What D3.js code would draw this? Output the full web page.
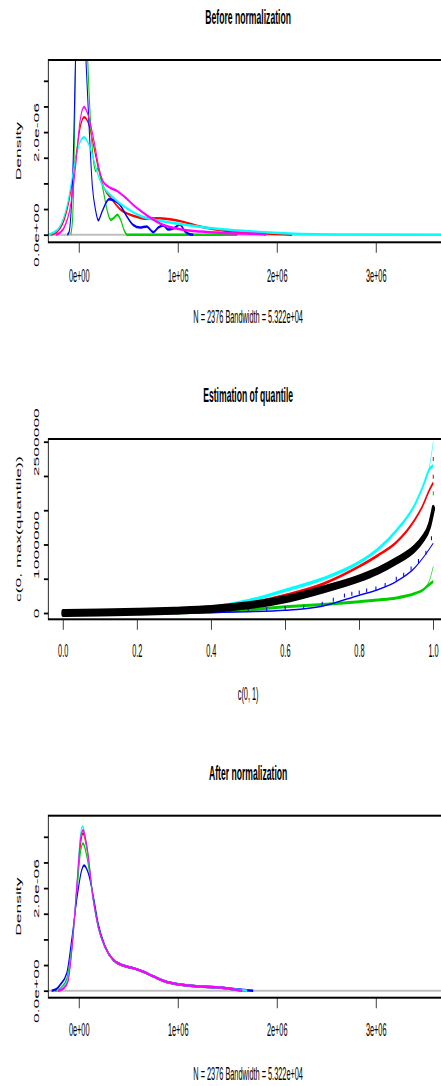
<!DOCTYPE html>
<html>
<head>
<meta charset="utf-8">
<script src="https://cdn.jsdelivr.net/npm/d3@7"></script>
<style>
  html, body { margin: 0; padding: 0; background: #fff; overflow: hidden; }
  svg { display: block; }
  text { font-family: "Liberation Sans", Arial, Helvetica, sans-serif; fill: #000; }
</style>
</head>
<body>
<script>
// ---------- data ----------
// density panels: x in units of 1e6, density in units of 1e-6
const densXTicks = [0, 1, 2, 3];
const densXLabels = ["0e+00", "1e+06", "2e+06", "3e+06"];
const densYTicks = [0, 0.5, 1, 1.5, 2, 2.5, 3];
const densYLabels = ["0.0e+00", "", "", "", "2.0e-06", "", ""];
const subText = "N = 2376   Bandwidth = 5.322e+04";

const beforeRed = [[-0.286,0],[-0.22,0.06],[-0.169,0.2],[-0.101,0.66],[-0.033,1.5],[0.017,2.14],[0.051,2.29],[0.101,2.14],[0.152,1.69],[0.202,1.24],[0.253,0.91],[0.32,0.72],[0.414,0.5],[0.548,0.37],[0.684,0.31],[0.785,0.32],[0.919,0.30],[1.054,0.25],[1.222,0.16],[1.424,0.09],[1.694,0.04],[1.997,0.014],[2.15,0]];
const beforeGreen = [[-0.084,0],[-0.065,0.3],[-0.056,0.8],[-0.033,3.6],[0.01,8],[0.084,3.6],[0.118,2.14],[0.152,1.36],[0.169,1.24],[0.195,1.3],[0.219,1.1],[0.253,0.78],[0.286,0.46],[0.32,0.29],[0.354,0.33],[0.387,0.39],[0.421,0.29],[0.455,0.09],[0.488,0],[1.6,0]];
const beforeBlue = [[-0.118,0],[-0.1,0.05],[-0.084,0.33],[-0.058,1.5],[-0.033,3.6],[0.005,6.0],[0.068,3.5],[0.101,2.14],[0.134,0.97],[0.169,0.46],[0.195,0.28],[0.235,0.46],[0.303,0.69],[0.371,0.65],[0.414,0.58],[0.482,0.36],[0.548,0.19],[0.616,0.14],[0.684,0.16],[0.751,0.05],[0.801,0.14],[0.852,0.18],[0.902,0.1],[0.953,0.12],[1.02,0.2],[1.071,0.06],[1.121,0.01],[1.155,0]];
const beforeCyan = [[-0.313,0],[-0.25,0.05],[-0.202,0.13],[-0.16,0.3],[-0.118,0.58],[-0.051,1.30],[0,1.75],[0.051,1.90],[0.101,1.75],[0.152,1.44],[0.202,1.11],[0.253,0.91],[0.32,0.77],[0.42,0.6],[0.52,0.47],[0.616,0.37],[0.818,0.27],[1.088,0.19],[1.424,0.11],[1.758,0.06],[2.23,0.014],[2.6,0.002],[3.9,0]];
const beforeMagenta = [[-0.235,0],[-0.19,0.04],[-0.152,0.13],[-0.084,0.58],[-0.033,1.36],[0.010,2.21],[0.051,2.49],[0.091,2.34],[0.152,1.82],[0.202,1.3],[0.253,1.01],[0.32,0.91],[0.387,0.85],[0.472,0.72],[0.548,0.58],[0.684,0.38],[0.818,0.22],[1.02,0.105],[1.222,0.06],[1.525,0.03],[1.859,0.01],[1.89,0]];

const afterTail = [[0.195,1.24],[0.263,0.85],[0.346,0.6],[0.447,0.49],[0.548,0.44],[0.65,0.37],[0.75,0.28],[0.886,0.17],[1.02,0.12],[1.222,0.08],[1.424,0.06],[1.556,0.03],[1.65,0.008],[1.7,0]];
const afterRed = [[-0.222,0],[-0.19,0.02],[-0.162,0.05],[-0.116,0.2],[-0.071,0.85],[-0.02,2.05],[0.015,2.85],[0.04,3.07],[0.081,2.75],[0.144,1.78]];
const afterGreen = [[-0.242,0],[-0.2,0.02],[-0.172,0.07],[-0.121,0.25],[-0.071,0.9],[-0.02,1.95],[0.015,2.7],[0.04,2.87],[0.081,2.6],[0.144,1.78]];
const afterBlue = [[-0.276,0],[-0.23,0.03],[-0.192,0.11],[-0.124,0.34],[-0.074,0.99],[-0.023,1.77],[0.027,2.35],[0.051,2.44],[0.094,2.29],[0.144,1.85],[0.195,1.3],[0.263,0.87],[0.346,0.6],[0.447,0.49],[0.548,0.44],[0.65,0.37],[0.75,0.28],[0.886,0.17],[1.02,0.12],[1.222,0.08],[1.424,0.06],[1.556,0.035],[1.694,0.01],[1.76,0]];
const afterCyan = [[-0.222,0],[-0.19,0.02],[-0.162,0.06],[-0.116,0.2],[-0.071,0.85],[-0.02,2.1],[0.013,3.0],[0.035,3.2],[0.076,2.85],[0.144,1.78]];
const afterMagenta = [[-0.212,0],[-0.18,0.02],[-0.152,0.05],[-0.111,0.18],[-0.071,0.82],[-0.02,2.1],[0.015,2.95],[0.04,3.13],[0.081,2.8],[0.144,1.78]];
const afterMagentaEnd = [[1.6,0.01],[1.65,0]];

// quantile panel
const qXTicks = [0, 0.2, 0.4, 0.6, 0.8, 1.0];
const qYTicks = [0, 500000, 1000000, 1500000, 2000000, 2500000];
const qYLabels = ["0", "", "1000000", "", "", "2500000"];
const qProb  = [0, 0.1, 0.2, 0.3, 0.4, 0.5, 0.6, 0.7, 0.8, 0.85, 0.9, 0.95, 0.97, 0.99, 1.0];
const qBlack = [0, 8e3, 19e3, 34e3, 58e3, 112e3, 200e3, 340e3, 505e3, 615e3, 760e3, 945e3, 1.07e6, 1.28e6, 1.52e6];
const qCyan  = [0, 6e3, 16e3, 38e3, 82e3, 178e3, 330e3, 495e3, 740e3, 930e3, 1.2e6, 1.58e6, 1.82e6, 2.1e6, 2.15e6];
const qRed   = [0, 5e3, 14e3, 30e3, 65e3, 140e3, 260e3, 420e3, 680e3, 840e3, 1.03e6, 1.36e6, 1.55e6, 1.8e6, 1.9e6];
const qBlue  = [0, 1e3, 2e3, 4e3, 8e3, 18e3, 40e3, 100e3, 260e3, 340e3, 460e3, 660e3, 790e3, 940e3, 1.02e6];
const qGreen = [0, 1e3, 2e3, 4e3, 12e3, 45e3, 90e3, 125e3, 165e3, 190e3, 220e3, 285e3, 330e3, 420e3, 460e3];
const cyanTail  = [[0.97,1.82e6],[0.99,2.15e6],[1.0,2.5e6]];
const greenTail = [[0.965,300e3],[0.98,380e3],[0.99,480e3],[1.0,680e3]];
const blueMarks = [[0.45,12e3],[0.5,18e3],[0.55,26e3],[0.6,42e3],[0.65,62e3],[0.7,105e3],[0.73,165e3],[0.76,225e3],[0.78,250e3],[0.8,270e3],[0.82,300e3],[0.845,330e3],[0.87,380e3],[0.9,470e3],[0.92,530e3],[0.94,620e3],[0.96,730e3],[0.98,850e3],[0.995,1.06e6]];
const redMarks = [[1.0,2.22e6],[1.0,1.96e6]];
const greenMarks = [[1.0,1.72e6]];

// ---------- layout ----------
const SX = 0.42;            // the whole figure is squeezed horizontally
const wx = px => px / SX;   // screen px -> drawing units
const AX = 17.5, TT = 20.5; // font sizes
const col = { red: "#FF0000", green: "#00CD00", blue: "#0000FF", cyan: "#00FFFF", magenta: "#FF00FF" };

const svg = d3.select("body").append("svg")
  .attr("width", 441).attr("height", 1086);
const root = svg.append("g").attr("transform", `scale(${SX},1)`);

let clipId = 0;
function frame(c) {
  const g = root.append("g");
  const id = "clip" + (clipId++);
  svg.append("defs").append("clipPath").attr("id", id)
    .append("rect")
      .attr("x", wx(c.left)).attr("y", c.top)
      .attr("width", wx(c.right) - wx(c.left)).attr("height", c.bottom - c.top);

  g.append("text")
    .attr("x", wx((c.left + c.right) / 2)).attr("y", c.titleY)
    .attr("text-anchor", "middle")
    .style("font-size", TT + "px").style("font-weight", "bold")
    .text(c.title);

  const xa = g.append("g").attr("transform", `translate(0,${c.bottom})`)
    .call(d3.axisBottom(c.x).tickValues(c.xTicks).tickSize(10.5).tickSizeOuter(0)
      .tickFormat((d, i) => c.xLabels[i]));
  const ya = g.append("g").attr("transform", `translate(${wx(c.left)},0)`)
    .call(d3.axisLeft(c.y).tickValues(c.yTicks).tickSize(10.5).tickSizeOuter(0)
      .tickFormat((d, i) => c.yLabels[i]));
  [xa, ya].forEach(a => {
    a.select(".domain").remove();
    a.selectAll("line").attr("stroke", "#000").attr("stroke-width", 1.8);
    a.selectAll("text").style("font-size", AX + "px").attr("fill", "#000");
  });
  xa.selectAll("text").attr("y", c.tickY - c.bottom).attr("dy", null);
  ya.selectAll(".tick text")
    .attr("x", null).attr("dy", null)
    .attr("text-anchor", "middle")
    .attr("transform", `translate(${wx(38.5) - wx(c.left)},0) rotate(-90)`);

  g.append("text")
    .attr("transform", `translate(${wx(20.5)},${(c.top + c.bottom) / 2}) rotate(-90)`)
    .attr("text-anchor", "middle")
    .style("font-size", AX + "px")
    .text(c.yTitle);

  g.append("text")
    .attr("x", wx((c.left + c.right) / 2)).attr("y", c.subY)
    .attr("text-anchor", "middle")
    .style("font-size", AX + "px")
    .text(c.sub);

  const plot = g.append("g").attr("clip-path", `url(#${id})`);
  g.append("rect")
    .attr("x", wx(c.left)).attr("y", c.top)
    .attr("width", wx(c.right) - wx(c.left)).attr("height", c.bottom - c.top)
    .attr("fill", "none").attr("stroke", "#000").attr("stroke-width", 2);
  return plot;
}

function densityPanel(c, series) {
  c.x = d3.scaleLinear().domain([0, 1]).range([wx(79), wx(178)]);
  c.y = d3.scaleLinear().domain([0, 1]).range([c.zeroY, c.zeroY - 51.3]);
  Object.assign(c, { xTicks: densXTicks, xLabels: densXLabels, yTicks: densYTicks,
    yLabels: densYLabels, yTitle: "Density", sub: subText });
  const plot = frame(c);
  plot.append("line")
    .attr("x1", wx(c.left)).attr("x2", wx(c.right))
    .attr("y1", c.y(0)).attr("y2", c.y(0))
    .attr("stroke", "#BEBEBE").attr("stroke-width", 2);
  const line = d3.line().curve(d3.curveMonotoneX).x(d => c.x(d[0])).y(d => c.y(d[1]));
  series.forEach(s => {
    plot.append("path")
      .attr("d", line(s.pts))
      .attr("fill", "none").attr("stroke", s.color).attr("stroke-width", 2.5);
  });
}

densityPanel(
  { top: 60, bottom: 242.3, left: 48.3, right: 448, zeroY: 234.7,
    title: "Before normalization", titleY: 24, tickY: 282, subY: 323 },
  [ { pts: beforeRed, color: col.red },
    { pts: beforeGreen, color: col.green },
    { pts: beforeBlue, color: col.blue },
    { pts: beforeCyan, color: col.cyan },
    { pts: beforeMagenta, color: col.magenta } ]);

densityPanel(
  { top: 815.7, bottom: 997.7, left: 48.3, right: 448, zeroY: 990.7,
    title: "After normalization", titleY: 780, tickY: 1036, subY: 1080 },
  [ { pts: afterRed.concat(afterTail), color: col.red },
    { pts: afterGreen.concat(afterTail), color: col.green },
    { pts: afterBlue, color: col.blue },
    { pts: afterCyan.concat(afterTail), color: col.cyan },
    { pts: afterMagenta.concat(afterTail.slice(0, -2), afterMagentaEnd), color: col.magenta } ]);

// quantile panel
(function() {
  const c = { top: 439, bottom: 619.3, left: 48.3, right: 448,
    title: "Estimation of quantile", titleY: 402, tickY: 657, subY: 700,
    xTicks: qXTicks, xLabels: qXTicks.map(d3.format(".1f")),
    yTicks: qYTicks, yLabels: qYLabels,
    yTitle: "c(0, max(quantile))", sub: "c(0, 1)" };
  c.x = d3.scaleLinear().domain([0, 1]).range([wx(63), wx(433.3)]);
  c.y = d3.scaleLinear().domain([0, 2500000]).range([613, 441.7]);
  const plot = frame(c);

  const line = d3.line().curve(d3.curveMonotoneX).x(d => c.x(d[0])).y(d => c.y(d[1]));
  const pairs = vals => qProb.map((p, i) => [p, vals[i]]);

  const band = (pts, color, w) => plot.append("path")
    .attr("d", line(pts)).attr("fill", "none")
    .attr("stroke", color).attr("stroke-width", w);

  band(pairs(qGreen), col.green, 3);
  band(greenTail, col.green, 1.2);
  band(pairs(qBlue), col.blue, 1.5);
  band(pairs(qRed), col.red, 3);
  band(pairs(qCyan), col.cyan, 3.5);
  band(cyanTail, col.cyan, 1.2);

  const marks = (pts, color) => plot.selectAll(null)
    .data(pts).enter().append("line")
      .attr("x1", d => c.x(d[0])).attr("x2", d => c.x(d[0]))
      .attr("y1", d => c.y(d[1])).attr("y2", d => c.y(d[1]) - 4)
      .attr("stroke", color).attr("stroke-width", 2.5);
  marks(blueMarks, col.blue);
  marks(redMarks, col.red);
  marks(greenMarks, col.green);

  plot.append("path")
    .attr("d", line(pairs(qBlack))).attr("fill", "none")
    .attr("stroke", "#000").attr("stroke-width", 8)
    .attr("stroke-linecap", "round");
})();
</script>
</body>
</html>
